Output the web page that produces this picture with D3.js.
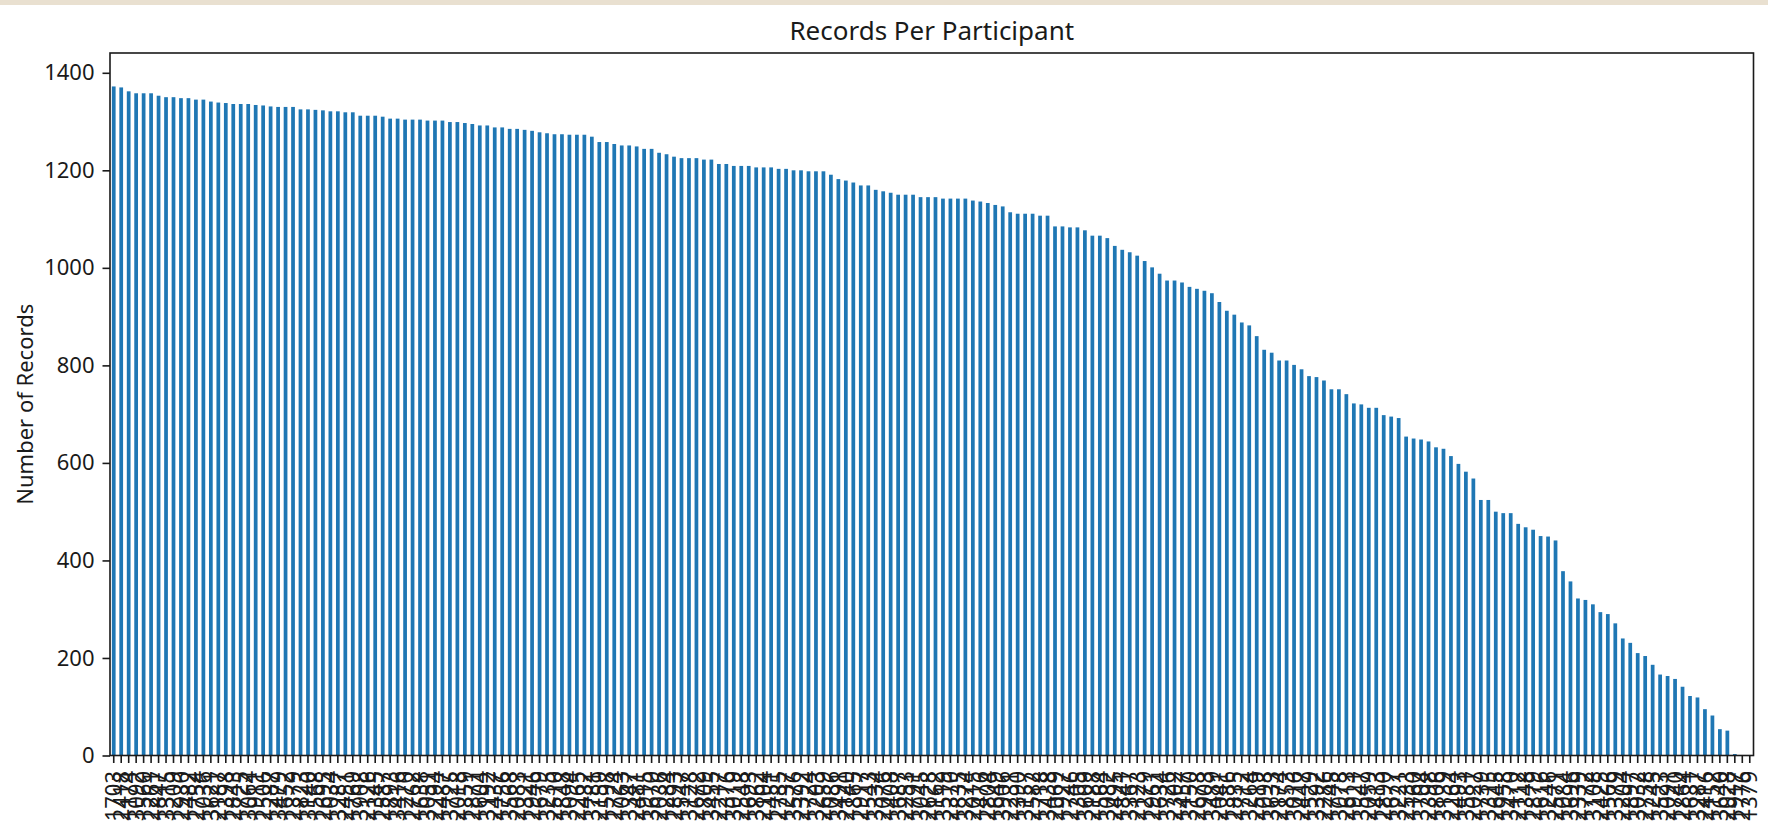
<!DOCTYPE html>
<html>
<head>
<meta charset="utf-8">
<script src="https://cdn.jsdelivr.net/npm/d3@7"></script>
<style>
  html, body { margin: 0; padding: 0; background: #fff; }
  svg { display: block; }
  text { font-family: "Noto Sans", "Open Sans", "DejaVu Sans", sans-serif; fill: #1a1a1a; }
</style>
</head>
<body>
<svg id="chart" width="1768" height="822"></svg>
<script>
// ---- data ----
const chartTitle = "Records Per Participant";
const yAxisLabel = "Number of Records";
const yTicks = [0, 200, 400, 600, 800, 1000, 1200, 1400];

// participant IDs (x tick labels; largely illegible in the reference, estimated)
const participantIds = (
  "1703 2418 1174 3092 1560 2261 1847 3315 1209 2930 " +
  "1482 2754 1036 3621 2187 1398 2843 1725 3064 1911 " +
  "2506 1287 3479 1652 2379 1823 3140 1568 2695 1034 " +
  "3287 2451 1769 3908 2126 1345 2587 1893 3416 1270 " +
  "2762 1638 3051 2294 1487 3725 2018 1359 2871 1604 " +
  "3192 2437 1756 3568 2083 1321 2946 1679 3235 2510 " +
  "1848 3094 2265 1432 3781 2159 1598 2724 1063 3347 " +
  "2481 1915 3670 2036 1284 2893 1547 3128 2672 1809 " +
  "3455 2217 1376 3019 2548 1693 3862 2104 1451 2785 " +
  "1237 3576 2392 1724 3203 2659 1086 3491 2140 1865 " +
  "2917 1543 3334 2076 1408 3687 2253 1791 3045 2628 " +
  "1162 3519 2370 1835 3274 2015 1476 2804 1649 3906 " +
  "2231 1390 3157 2582 1718 3438 2069 1927 2746 1305 " +
  "3609 2188 1564 3082 2495 1841 3367 2123 1279 2961 " +
  "1634 3726 2302 1457 3150 2678 1903 3489 2041 1386 " +
  "2835 1712 3264 2519 1098 3633 2174 1853 3016 2447 " +
  "1529 3392 2286 1745 3078 2613 1921 3547 2059 1413 " +
  "2890 1677 3221 2533 1160 3704 2398 1806 3139 2264 " +
  "1493 3581 2027 1739 3315 2645 1958 3470 2112 1348 " +
  "2879 1616 3246 2571 1084 3696 2339 1772 3108 2425 " +
  "1566 3379 2204 1897 3032 2758 1245 3523 2091 1740 " +
  "2864 1631 3287 2416 1152 3640 2028 1917 2776 1379"
).split(" ");

// number of records per participant (sorted descending)
const recordCounts = [
  1372, 1370, 1362, 1358, 1358, 1358, 1353, 1350, 1350, 1348,
  1348, 1345, 1345, 1341, 1339, 1338, 1336, 1336, 1336, 1334,
  1333, 1331, 1330, 1330, 1330, 1325, 1325, 1324, 1323, 1321,
  1321, 1319, 1319, 1312, 1312, 1312, 1310, 1306, 1306, 1304,
  1304, 1304, 1302, 1302, 1302, 1299, 1299, 1297, 1295, 1292,
  1292, 1288, 1288, 1285, 1285, 1283, 1281, 1278, 1276, 1274,
  1274, 1273, 1273, 1273, 1269, 1258, 1258, 1254, 1251, 1251,
  1249, 1244, 1244, 1236, 1233, 1228, 1225, 1225, 1225, 1222,
  1222, 1213, 1213, 1209, 1209, 1209, 1206, 1206, 1206, 1203,
  1203, 1200, 1200, 1198, 1198, 1198, 1191, 1182, 1179, 1175,
  1169, 1169, 1160, 1157, 1154, 1150, 1150, 1150, 1145, 1145,
  1145, 1142, 1142, 1142, 1142, 1138, 1136, 1133, 1129, 1126,
  1114, 1111, 1111, 1111, 1107, 1107, 1085, 1085, 1083, 1083,
  1077, 1066, 1066, 1061, 1045, 1037, 1032, 1025, 1014, 1001,
  988, 974, 974, 970, 961, 957, 953, 948, 930, 912,
  904, 888, 882, 860, 832, 826, 810, 810, 801, 792,
  778, 776, 769, 751, 751, 741, 722, 720, 713, 713,
  698, 695, 692, 654, 650, 648, 644, 632, 629, 614,
  598, 582, 568, 524, 524, 500, 497, 497, 475, 468,
  463, 450, 449, 441, 378, 357, 322, 319, 310, 294,
  290, 271, 240, 231, 210, 204, 186, 166, 163, 157,
  141, 122, 119, 95, 82, 54, 51, 3, 1, 1
];

// ---- drawing ----
const svg = d3.select("#chart");
const W = 1768, H = 822;
const plot = { left: 110, right: 1753.5, top: 53, bottom: 755.5 };

svg.append("rect").attr("x", 0).attr("y", 0).attr("width", W).attr("height", H).attr("fill", "#ffffff");
// beige strip at the very top of the screenshot
svg.append("rect").attr("x", 0).attr("y", 0).attr("width", W).attr("height", 5).attr("fill", "#e9e0d0");

const idx = d3.range(recordCounts.length);
const x = d3.scaleBand()
  .domain(idx)
  .range([plot.left, plot.right])
  .paddingInner(0.5)
  .paddingOuter(0.25);

const yMax = d3.max(recordCounts) * 1.05;
const y = d3.scaleLinear().domain([0, yMax]).range([plot.bottom, plot.top]);

// bars
svg.append("g")
  .selectAll("rect")
  .data(idx)
  .join("rect")
  .attr("x", i => x(i))
  .attr("width", x.bandwidth())
  .attr("y", i => y(recordCounts[i]))
  .attr("height", i => y(0) - y(recordCounts[i]))
  .attr("fill", "#1f77b4");

const tickLen = 7.5, tickPad = 8;

// y axis
const yAxis = svg.append("g")
  .attr("transform", `translate(${plot.left},0)`)
  .call(d3.axisLeft(y).tickValues(yTicks).tickSize(tickLen).tickPadding(tickPad).tickFormat(d3.format("d")));
yAxis.select(".domain").remove();
yAxis.selectAll(".tick line").attr("stroke", "#1a1a1a").attr("stroke-width", 1.6);
yAxis.selectAll(".tick text").style("font-size", "22px").attr("fill", "#1a1a1a");

// x axis
const xAxis = svg.append("g")
  .attr("transform", `translate(0,${plot.bottom})`)
  .call(d3.axisBottom(x).tickSize(tickLen).tickPadding(tickPad).tickFormat(i => participantIds[i]));
xAxis.select(".domain").remove();
xAxis.selectAll(".tick line").attr("stroke", "#1a1a1a").attr("stroke-width", 1.6);
xAxis.selectAll(".tick text")
  .style("font-size", "22px")
  .attr("fill", "#1a1a1a")
  .attr("transform", "rotate(-90)")
  .attr("x", -(tickLen + tickPad))
  .attr("y", 0)
  .attr("dy", "0.35em")
  .style("text-anchor", "end");

// frame
svg.append("rect")
  .attr("x", plot.left).attr("y", plot.top)
  .attr("width", plot.right - plot.left).attr("height", plot.bottom - plot.top)
  .attr("fill", "none").attr("stroke", "#1a1a1a").attr("stroke-width", 1.6);

// title
svg.append("text")
  .attr("x", (plot.left + plot.right) / 2)
  .attr("y", 40)
  .attr("text-anchor", "middle")
  .style("font-size", "26px")
  .text(chartTitle);

// y label
svg.append("text")
  .attr("transform", `translate(33,${(plot.top + plot.bottom) / 2}) rotate(-90)`)
  .attr("text-anchor", "middle")
  .style("font-size", "22px")
  .text(yAxisLabel);
</script>
</body>
</html>
